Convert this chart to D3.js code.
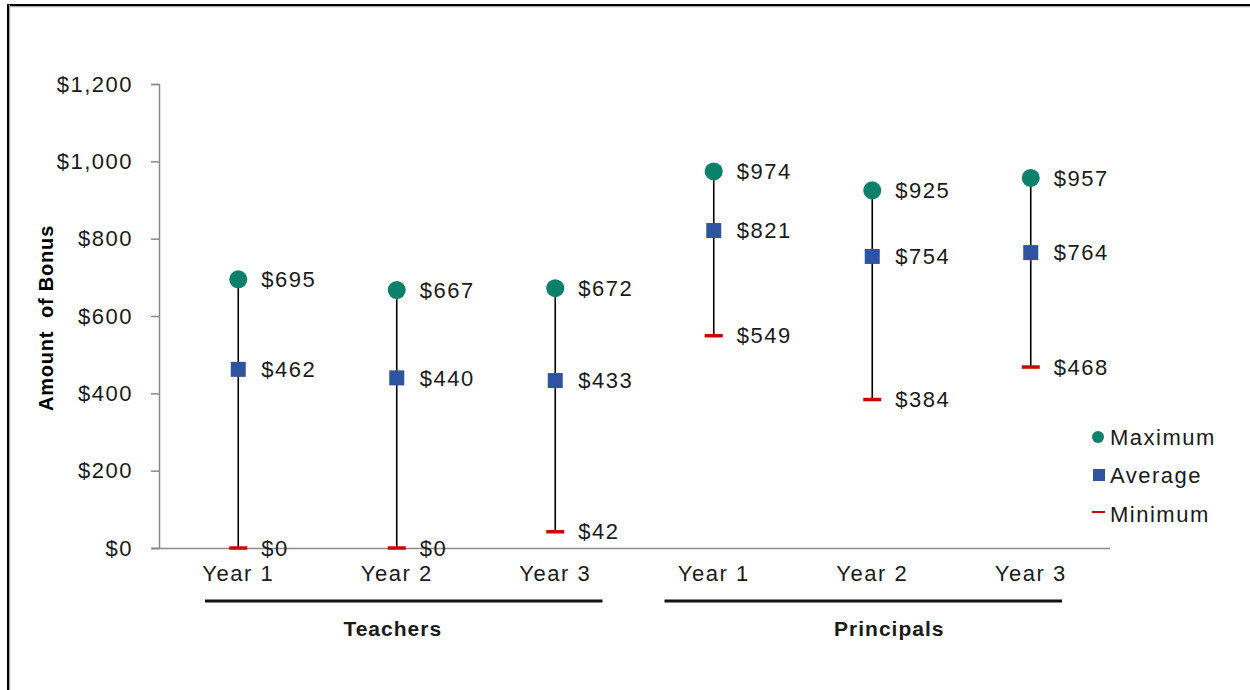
<!DOCTYPE html>
<html>
<head>
<meta charset="utf-8">
<script src="https://cdn.jsdelivr.net/npm/d3@7"></script>
<style>
  html, body { margin: 0; padding: 0; background: #fff; }
  svg text { font-family: "Liberation Sans", Arial, sans-serif; }
</style>
</head>
<body>
<svg id="chart" width="1250" height="690"></svg>
<script>
// Bonus amounts by group and year
const groups = ["Teachers", "Principals"];
const years = ["Year 1", "Year 2", "Year 3"];
const maximum = [695, 667, 672, 974, 925, 957];
const average = [462, 440, 433, 821, 754, 764];
const minimum = [0, 0, 42, 549, 384, 468];
const yTicks = [0, 200, 400, 600, 800, 1000, 1200];
const seriesNames = ["Maximum", "Average", "Minimum"];

const colors = { max: "#0b806b", avg: "#2f53a0", min: "#d00000", axis: "#8a8a8a", text: "#1a1a1a" };

const svg = d3.select("#chart");

// frame
svg.append("line").attr("x1", 7).attr("x2", 1250).attr("y1", 6.5).attr("y2", 6.5).attr("stroke", "#aaa").attr("stroke-width", 1.5);
svg.append("line").attr("x1", 7).attr("x2", 1250).attr("y1", 5).attr("y2", 5).attr("stroke", "#000").attr("stroke-width", 2);
svg.append("line").attr("x1", 9.5).attr("x2", 9.5).attr("y1", 5).attr("y2", 690).attr("stroke", "#aaa").attr("stroke-width", 1.5);
svg.append("line").attr("x1", 8).attr("x2", 8).attr("y1", 4).attr("y2", 690).attr("stroke", "#000").attr("stroke-width", 2);

const plot = { left: 159, right: 1110, top: 84, bottom: 548 };

const cats = [];
groups.forEach(g => years.forEach(y => cats.push(g + "|" + y)));
const rows = cats.map((key, i) => ({ key, max: maximum[i], avg: average[i], min: minimum[i] }));

const x = d3.scaleBand().domain(cats).range([plot.left, plot.right]);
const y = d3.scaleLinear().domain([0, 1200]).range([plot.bottom, plot.top]);

const fontSize = 22, spacing = 1.5;

// y axis
const yAxis = svg.append("g")
  .attr("transform", `translate(${plot.left},0)`)
  .call(d3.axisLeft(y).tickValues(yTicks).tickSize(8).tickPadding(18)
    .tickFormat(d => "$" + d3.format(",")(d)));
yAxis.selectAll("path, line").attr("stroke", colors.axis).attr("stroke-width", 1.5);
yAxis.selectAll("text").attr("font-size", fontSize).attr("letter-spacing", spacing)
  .attr("fill", colors.text).attr("font-family", "Liberation Sans, Arial, sans-serif");

// x axis
const xAxis = svg.append("g")
  .attr("transform", `translate(0,${plot.bottom})`)
  .call(d3.axisBottom(x).tickSize(0).tickPadding(17).tickFormat(d => d.split("|")[1]));
xAxis.select("path").attr("d", `M${plot.left - 7},0.5H${plot.right}`)
  .attr("stroke", colors.axis).attr("stroke-width", 1.5);
xAxis.selectAll("text").attr("font-size", fontSize).attr("letter-spacing", spacing)
  .attr("fill", colors.text).attr("font-family", "Liberation Sans, Arial, sans-serif");

// group underlines and labels (insets from the group's band extent)
const bracketInset = [[46, 32], [30, 48]];
const labelShift = [-4, 17];
groups.forEach((g, gi) => {
  const first = x(g + "|" + years[0]);
  const last = x(g + "|" + years[years.length - 1]) + x.bandwidth();
  svg.append("line")
    .attr("x1", first + bracketInset[gi][0]).attr("x2", last - bracketInset[gi][1])
    .attr("y1", 601).attr("y2", 601)
    .attr("stroke", "#111").attr("stroke-width", 3);
  svg.append("text")
    .attr("x", (first + last) / 2 + labelShift[gi]).attr("y", 636)
    .attr("text-anchor", "middle")
    .attr("font-size", 21).attr("font-weight", "bold").attr("letter-spacing", 1)
    .attr("fill", colors.text)
    .text(g);
});

// y axis title
svg.append("text")
  .attr("transform", `translate(53,318) rotate(-90)`)
  .attr("text-anchor", "middle")
  .attr("font-size", 20).attr("font-weight", "bold").attr("letter-spacing", 0.8)
  .attr("fill", "#000")
  .style("white-space", "pre")
  .text("Amount  of Bonus");

// range lines and markers
const cx = d => x(d.key) + x.bandwidth() / 2;
const marks = svg.append("g");
marks.selectAll("line.range").data(rows).join("line")
  .attr("class", "range")
  .attr("x1", cx).attr("x2", cx)
  .attr("y1", d => y(d.max)).attr("y2", d => y(d.min))
  .attr("stroke", "#000").attr("stroke-width", 1.6);

marks.selectAll("line.min").data(rows).join("line")
  .attr("class", "min")
  .attr("x1", d => cx(d) - 9).attr("x2", d => cx(d) + 9)
  .attr("y1", d => y(d.min)).attr("y2", d => y(d.min))
  .attr("stroke", colors.min).attr("stroke-width", 3.5);

marks.selectAll("rect.avg").data(rows).join("rect")
  .attr("class", "avg")
  .attr("x", d => cx(d) - 7.5).attr("y", d => y(d.avg) - 7.5)
  .attr("width", 15).attr("height", 15)
  .attr("fill", colors.avg);

marks.selectAll("circle.max").data(rows).join("circle")
  .attr("class", "max")
  .attr("cx", cx).attr("cy", d => y(d.max)).attr("r", 9)
  .attr("fill", colors.max);

// value labels
const money = v => "$" + d3.format(",")(v);
["max", "avg", "min"].forEach(k => {
  marks.selectAll("text." + k).data(rows).join("text")
    .attr("class", k)
    .attr("x", d => cx(d) + 23).attr("y", d => y(d[k]))
    .attr("dy", "0.35em")
    .attr("font-size", fontSize).attr("letter-spacing", spacing)
    .attr("fill", colors.text)
    .text(d => money(d[k]));
});

// legend
const legend = svg.append("g").attr("transform", "translate(1098,0)");
const legendY = [437, 475, 514];
seriesNames.forEach((name, i) => {
  const gy = legendY[i];
  if (i === 0) legend.append("circle").attr("cx", 0).attr("cy", gy).attr("r", 6).attr("fill", colors.max);
  if (i === 1) legend.append("rect").attr("x", -5).attr("y", gy - 6).attr("width", 12).attr("height", 12).attr("fill", colors.avg);
  if (i === 2) legend.append("line").attr("x1", -6).attr("x2", 7).attr("y1", gy - 2).attr("y2", gy - 2).attr("stroke", colors.min).attr("stroke-width", 2);
  legend.append("text").attr("x", 12).attr("y", gy).attr("dy", "0.35em")
    .attr("font-size", fontSize).attr("letter-spacing", spacing)
    .attr("fill", colors.text).text(name);
});
</script>
</body>
</html>
